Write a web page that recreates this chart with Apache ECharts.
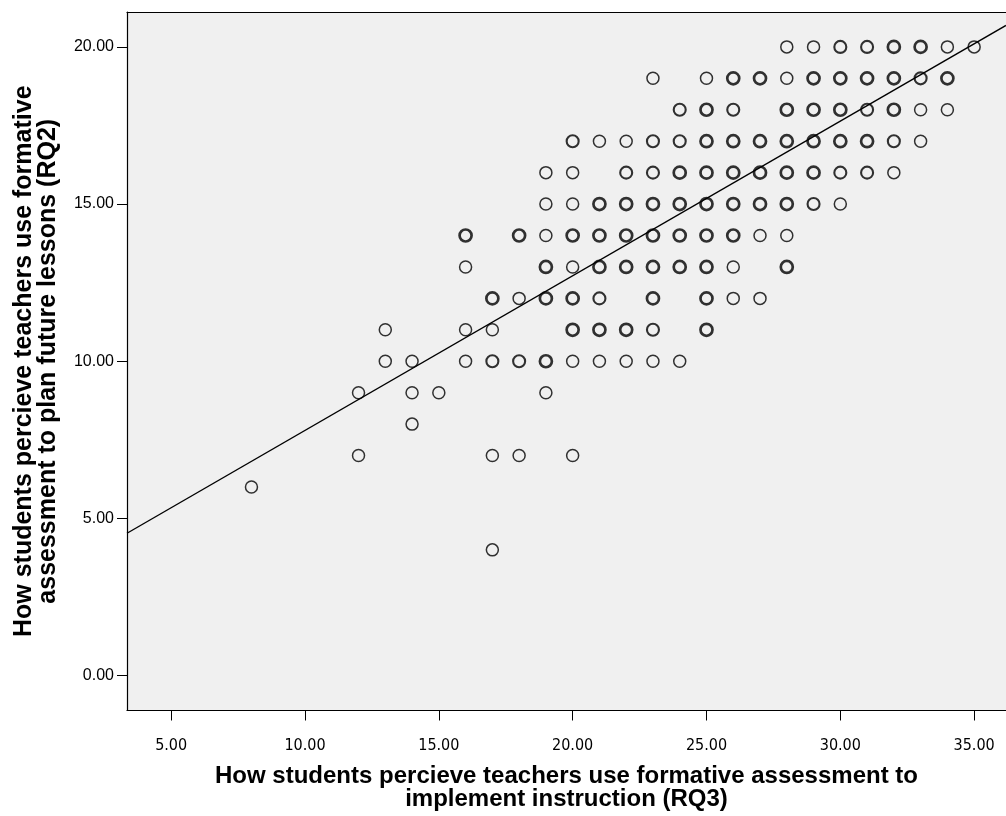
<!DOCTYPE html>
<html>
<head>
<meta charset="utf-8">
<script src="https://cdn.jsdelivr.net/npm/echarts@6/dist/echarts.min.js"></script>
<style>html,body{margin:0;padding:0;background:#fff;}#c{width:1006px;height:816px;}</style>
</head>
<body>
<div id="c"></div>
<script>
// Data: one entry per row of the scatter (y value),
// with the x values present in that row and a rough overlap level (1 thin .. 3 bold)
const rowY = [20, 19, 18, 17, 16, 15, 14, 13, 12, 11, 10, 9, 8, 7, 6, 4];
const rowX = [
  [28, 29, 30, 31, 32, 33, 34, 35],
  [23, 25, 26, 27, 28, 29, 30, 31, 32, 33, 34],
  [24, 25, 26, 28, 29, 30, 31, 32, 33, 34],
  [20, 21, 22, 23, 24, 25, 26, 27, 28, 29, 30, 31, 32, 33],
  [19, 20, 22, 23, 24, 25, 26, 27, 28, 29, 30, 31, 32],
  [19, 20, 21, 22, 23, 24, 25, 26, 27, 28, 29, 30],
  [16, 18, 19, 20, 21, 22, 23, 24, 25, 26, 27, 28],
  [16, 19, 20, 21, 22, 23, 24, 25, 26, 28],
  [17, 18, 19, 20, 21, 23, 25, 26, 27],
  [13, 16, 17, 20, 21, 22, 23, 25],
  [13, 14, 16, 17, 18, 19, 20, 21, 22, 23, 24],
  [12, 14, 15, 19],
  [14],
  [12, 17, 18, 20],
  [8],
  [17]
];
const rowOverlap = [
  [1, 1, 2, 2, 3, 3, 1, 1],
  [1, 1, 3, 3, 1, 3, 3, 3, 3, 2, 3],
  [2, 3, 2, 3, 3, 3, 2, 3, 1, 1],
  [2, 1, 1, 2, 2, 3, 3, 3, 3, 3, 3, 3, 2, 1],
  [1, 1, 2, 2, 3, 3, 3, 3, 3, 3, 2, 2, 1],
  [1, 1, 3, 3, 3, 3, 3, 3, 3, 3, 2, 1],
  [3, 3, 1, 3, 3, 3, 3, 3, 3, 3, 1, 1],
  [1, 3, 1, 3, 3, 3, 3, 3, 1, 3],
  [3, 1, 3, 3, 2, 3, 3, 1, 1],
  [1, 1, 1, 3, 3, 3, 2, 3],
  [1, 1, 1, 2, 2, 3, 1, 1, 1, 1, 1],
  [1, 1, 1, 1],
  [1],
  [1, 1, 1, 1],
  [1],
  [1]
];
// Fit line (linear regression)
const fitSlope = 0.492;
const fitIntercept = 2.88;
// Axis ranges and tick labels
const xMin = 3.35, xMax = 36.19;
const yMin = -1.11, yMax = 21.11;
const xTicks = [5, 10, 15, 20, 25, 30, 35];
const yTicks = [0, 5, 10, 15, 20];
const xTitle = 'How students percieve teachers use formative assessment to\nimplement instruction (RQ3)';
const yTitle = 'How students percieve teachers use formative\nassessment to plan future lessons (RQ2)';

const widthByOverlap = {1: 1.5, 2: 2.1, 3: 2.7};
const points = [];
rowY.forEach((y, i) => {
  rowX[i].forEach((x, j) => {
    const o = rowOverlap[i][j];
    points.push({value: [x, y], itemStyle: {borderWidth: widthByOverlap[o]}});
  });
});

const chart = echarts.init(document.getElementById('c'), null, {renderer: 'canvas'});
chart.setOption({
  animation: false,
  backgroundColor: '#ffffff',
  grid: {left: 127, right: -4, top: 12, bottom: 104, show: true,
         backgroundColor: '#f0f0f0', borderWidth: 0},
  xAxis: [{
    type: 'value', min: xMin, max: xMax,
    name: xTitle, nameLocation: 'middle', nameGap: 54,
    nameTextStyle: {fontFamily: 'Liberation Sans', fontWeight: 'bold', fontSize: 24, color: '#000', lineHeight: 23},
    axisLine: {show: true, onZero: false, lineStyle: {color: '#000', width: 1.2}},
    axisTick: {show: true, length: 10, customValues: xTicks, lineStyle: {color: '#000', width: 1}},
    axisLabel: {customValues: xTicks, margin: 27, fontFamily: 'DejaVu Sans Condensed, Liberation Sans', fontSize: 16, color: '#000',
                formatter: v => v.toFixed(2)},
    splitLine: {show: false}
  }, {
    type: 'value', min: xMin, max: xMax, position: 'top',
    axisLine: {show: true, onZero: false, lineStyle: {color: '#000', width: 1.2}},
    axisTick: {show: false}, axisLabel: {show: false}, splitLine: {show: false}
  }],
  yAxis: {
    type: 'value', min: yMin, max: yMax,
    name: yTitle, nameLocation: 'middle', nameGap: 67, nameRotate: 90,
    nameTextStyle: {fontFamily: 'Liberation Sans', fontWeight: 'bold', fontSize: 25, color: '#000', lineHeight: 24},
    axisLine: {show: true, onZero: false, lineStyle: {color: '#000', width: 1.2}},
    axisTick: {show: true, length: 10, customValues: yTicks, lineStyle: {color: '#000', width: 1}},
    axisLabel: {customValues: yTicks, margin: 13, fontFamily: 'Liberation Sans', fontSize: 16, color: '#000',
                formatter: v => v.toFixed(2)},
    splitLine: {show: false}
  },
  series: [
    {
      type: 'scatter', symbol: 'circle', symbolSize: 12,
      itemStyle: {color: 'rgba(0,0,0,0)', borderColor: '#000', borderWidth: 1.5},
      data: points, silent: true
    },
    {
      type: 'line', symbol: 'none', silent: true,
      lineStyle: {color: '#000', width: 1.4},
      data: [[xMin, fitIntercept + fitSlope * xMin], [xMax, fitIntercept + fitSlope * xMax]],
      z: 3
    }
  ]
});
</script>
</body>
</html>
